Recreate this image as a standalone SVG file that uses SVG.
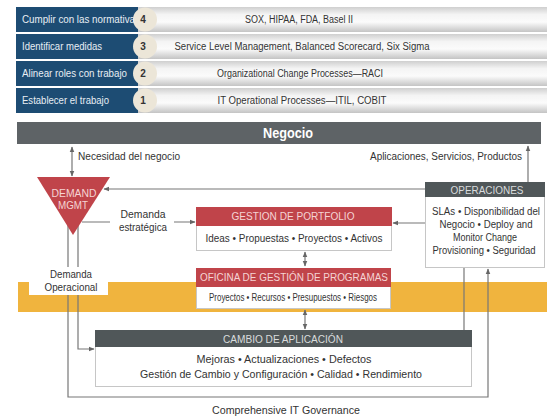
<svg xmlns="http://www.w3.org/2000/svg" width="547" height="419" viewBox="0 0 547 419">
<defs>
<linearGradient id="bar" x1="0" y1="0" x2="0" y2="1">
<stop offset="0" stop-color="#cfcfcf"/><stop offset="0.3" stop-color="#f4f4f4"/><stop offset="0.6" stop-color="#fbfbfb"/><stop offset="1" stop-color="#c4c4c4"/>
</linearGradient>
<marker id="ah" viewBox="0 0 10 10" refX="9" refY="5" markerWidth="5" markerHeight="5" orient="auto-start-reverse">
<path d="M0,1 L10,5 L0,9 z" fill="#666"/>
</marker>
<style>
text{font-family:"Liberation Sans Narrow","Liberation Sans",Arial,sans-serif;}
.lbl{fill:#e8eef4;font-size:10px;}
.num{fill:#333;font-size:10px;font-weight:bold;text-anchor:middle;}
.bt{fill:#333;font-size:10px;text-anchor:middle;}
.t{fill:#333;font-size:10px;}
.tc{fill:#333;font-size:10px;text-anchor:middle;}
.hr{fill:#f5d4d4;font-size:10px;text-anchor:middle;}
.hg{fill:#d9dcdd;font-size:10px;text-anchor:middle;}
.blue{fill:#1d4c73;}
.red{fill:#c0444a;}
.dark{fill:#505759;}
.box{fill:#fff;stroke:#c6c6c6;stroke-width:1;}
.ln{fill:none;stroke:#777;stroke-width:1.2;}
</style>
</defs>
<rect width="547" height="419" fill="#fff"/>

<g id="rows">
<g id="row4">
<rect x="137" y="7" width="410" height="25" fill="url(#bar)"/>
<rect class="blue" x="16" y="7" width="122" height="25"/>
<circle cx="145" cy="19.5" r="12" fill="#ece6d8"/>
<text class="lbl" x="22" y="23" textLength="113" lengthAdjust="spacingAndGlyphs">Cumplir con las normativa</text>
<text class="num" x="143" y="23">4</text>
<text class="bt" x="299" y="23" textLength="108" lengthAdjust="spacingAndGlyphs">SOX, HIPAA, FDA, Basel II</text>
</g>
<g id="row3">
<rect x="137" y="34" width="410" height="25" fill="url(#bar)"/>
<rect class="blue" x="16" y="34" width="122" height="25"/>
<circle cx="145" cy="46.5" r="12" fill="#ece6d8"/>
<text class="lbl" x="22" y="50" textLength="80" lengthAdjust="spacingAndGlyphs">Identificar medidas</text>
<text class="num" x="143" y="50">3</text>
<text class="bt" x="302" y="50" textLength="255" lengthAdjust="spacingAndGlyphs">Service Level Management, Balanced Scorecard, Six Sigma</text>
</g>
<g id="row2">
<rect x="137" y="61" width="410" height="25" fill="url(#bar)"/>
<rect class="blue" x="16" y="61" width="122" height="25"/>
<circle cx="145" cy="73.5" r="12" fill="#ece6d8"/>
<text class="lbl" x="22" y="77" textLength="105" lengthAdjust="spacingAndGlyphs">Alinear roles con trabajo</text>
<text class="num" x="143" y="77">2</text>
<text class="bt" x="300" y="77" textLength="166" lengthAdjust="spacingAndGlyphs">Organizational Change Processes—RACI</text>
</g>
<g id="row1">
<rect x="137" y="88" width="410" height="25" fill="url(#bar)"/>
<rect class="blue" x="16" y="88" width="122" height="25"/>
<circle cx="145" cy="100.5" r="12" fill="#ece6d8"/>
<text class="lbl" x="22" y="104" textLength="87" lengthAdjust="spacingAndGlyphs">Establecer el trabajo</text>
<text class="num" x="143" y="104">1</text>
<text class="bt" x="302" y="104" textLength="169" lengthAdjust="spacingAndGlyphs">IT Operational Processes—ITIL, COBIT</text>
</g>
</g>

<rect id="band" x="18" y="282" width="529" height="30" fill="#f0b43e"/>

<g id="negocio">
<rect x="17" y="122" width="524" height="22" fill="#5e6366"/>
<text x="288" y="138" fill="#fff" font-size="14" font-weight="bold" text-anchor="middle" textLength="50" lengthAdjust="spacingAndGlyphs">Negocio</text>
</g>

<g id="connectors">
<line class="ln" x1="72" y1="147" x2="72" y2="176" marker-start="url(#ah)" marker-end="url(#ah)"/>
<line class="ln" x1="528" y1="182" x2="528" y2="146" marker-end="url(#ah)"/>
<line class="ln" x1="426" y1="189" x2="104" y2="189" marker-end="url(#ah)"/>
<line class="ln" x1="82" y1="222" x2="195" y2="222" marker-end="url(#ah)"/>
<line class="ln" x1="426" y1="223" x2="393" y2="223" marker-end="url(#ah)"/>
<line class="ln" x1="305" y1="252" x2="305" y2="266" marker-start="url(#ah)" marker-end="url(#ah)"/>
<line class="ln" x1="305" y1="310" x2="305" y2="329" marker-start="url(#ah)" marker-end="url(#ah)"/>
<polyline class="ln" points="68,225 68,397 488,397 488,269" marker-end="url(#ah)"/>
<polyline class="ln" points="78,225 78,349 94,349" marker-end="url(#ah)"/>
<line class="ln" x1="464" y1="267" x2="464" y2="331"/>
</g>

<g id="nec-label"><text class="t" x="78" y="160" textLength="102" lengthAdjust="spacingAndGlyphs">Necesidad del negocio</text></g>
<g id="apl-label"><text class="t" x="522" y="160" text-anchor="end" textLength="152" lengthAdjust="spacingAndGlyphs">Aplicaciones, Servicios, Productos</text></g>

<g id="demand">
<polygon class="red" points="37,177 110,177 73,235"/>
<text class="hr" x="74" y="197" textLength="45" lengthAdjust="spacingAndGlyphs">DEMAND</text>
<text class="hr" x="73" y="209" textLength="30" lengthAdjust="spacingAndGlyphs">MGMT</text>
</g>

<g id="estrategica">
<rect x="110" y="207" width="64" height="27" fill="#fff"/>
<text class="tc" x="143" y="218" textLength="45" lengthAdjust="spacingAndGlyphs">Demanda</text>
<text class="tc" x="143" y="231" textLength="48" lengthAdjust="spacingAndGlyphs">estratégica</text>
</g>

<g id="portfolio">
<rect class="box" x="196.5" y="207.5" width="195" height="43"/>
<rect class="red" x="196" y="207" width="196" height="19"/>
<text class="hr" x="293" y="220" textLength="123" lengthAdjust="spacingAndGlyphs">GESTION DE PORTFOLIO</text>
<text class="tc" x="294" y="242" textLength="177" lengthAdjust="spacingAndGlyphs">Ideas • Propuestas • Proyectos • Activos</text>
</g>

<g id="oficina">
<rect class="box" x="196.5" y="268.5" width="194" height="40"/>
<rect class="red" x="196" y="268" width="195" height="19"/>
<text class="hr" x="294" y="281" textLength="188" lengthAdjust="spacingAndGlyphs">OFICINA DE GESTIÓN DE PROGRAMAS</text>
<text class="tc" x="293" y="301" font-size="8" textLength="168" lengthAdjust="spacingAndGlyphs">Proyectos • Recursos • Presupuestos • Riesgos</text>
</g>

<g id="operaciones">
<rect class="box" x="425.5" y="182.5" width="119" height="85"/>
<rect class="dark" x="425" y="182" width="120" height="15"/>
<text class="hg" x="487" y="193.5" textLength="73" lengthAdjust="spacingAndGlyphs">OPERACIONES</text>
<text class="tc" x="486" y="215" textLength="108" lengthAdjust="spacingAndGlyphs">SLAs • Disponibilidad del</text>
<text class="tc" x="486" y="228" textLength="93" lengthAdjust="spacingAndGlyphs">Negocio • Deploy and</text>
<text class="tc" x="485" y="241" textLength="64" lengthAdjust="spacingAndGlyphs">Monitor Change</text>
<text class="tc" x="484" y="254" textLength="103" lengthAdjust="spacingAndGlyphs">Provisioning • Seguridad</text>
</g>

<g id="operacional">
<rect x="29" y="267" width="79" height="28" fill="#fff"/>
<text class="tc" x="71" y="278" textLength="42" lengthAdjust="spacingAndGlyphs">Demanda</text>
<text class="tc" x="71" y="291" textLength="53" lengthAdjust="spacingAndGlyphs">Operacional</text>
</g>

<g id="cambio">
<rect class="box" x="95.5" y="330.5" width="376" height="56"/>
<rect class="dark" x="95" y="330" width="377" height="17"/>
<text class="hg" x="283" y="342.5" textLength="120" lengthAdjust="spacingAndGlyphs">CAMBIO DE APLICACIÓN</text>
<text class="tc" x="284" y="363" textLength="175" lengthAdjust="spacingAndGlyphs">Mejoras • Actualizaciones • Defectos</text>
<text class="tc" x="281" y="378" textLength="282" lengthAdjust="spacingAndGlyphs">Gestión de Cambio y Configuración • Calidad • Rendimiento</text>
</g>

<g id="governance"><text class="tc" x="286" y="414" textLength="148" lengthAdjust="spacingAndGlyphs">Comprehensive IT Governance</text></g>
</svg>
